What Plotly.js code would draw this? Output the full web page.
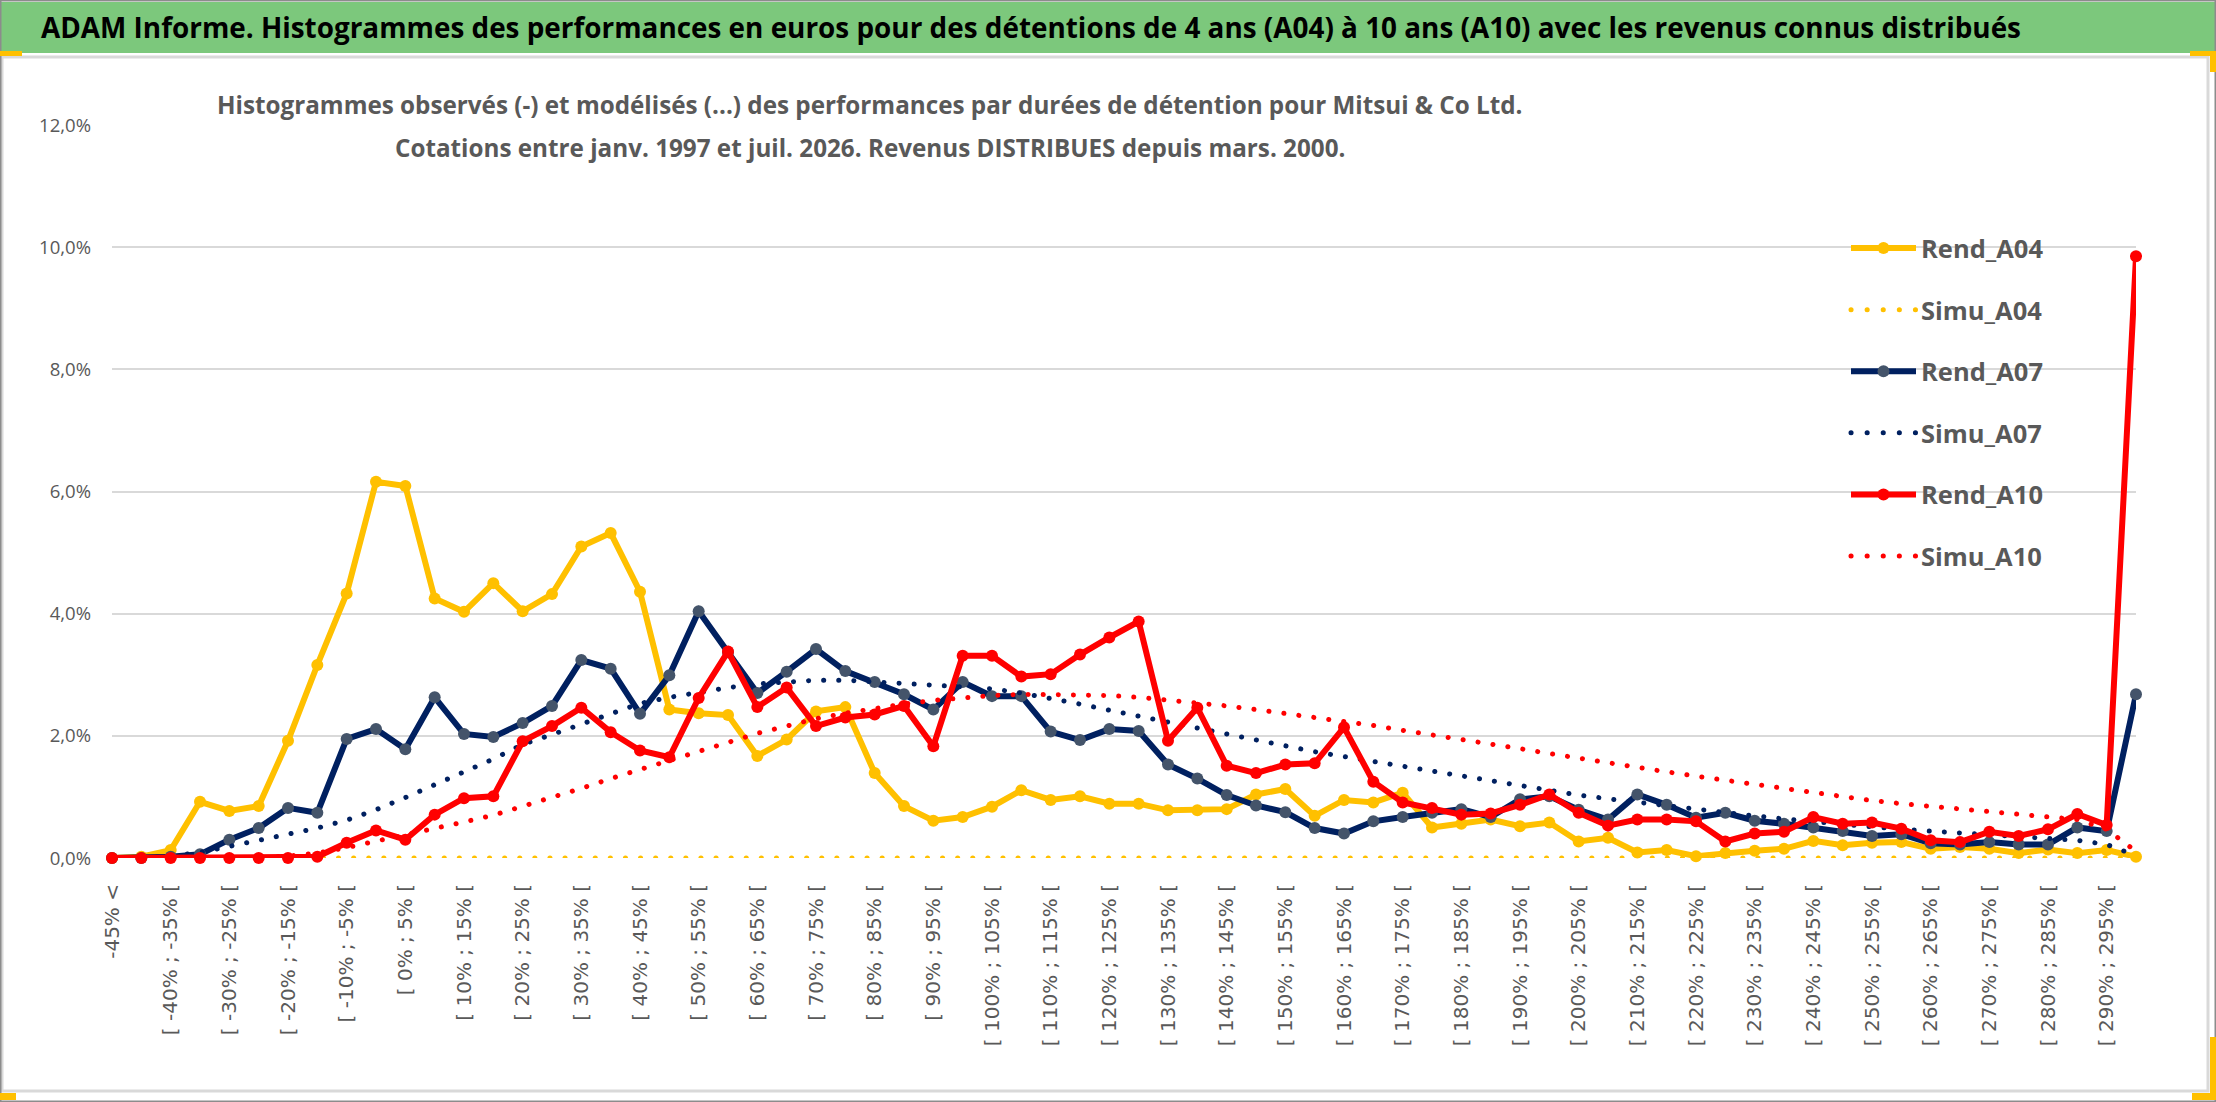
<!DOCTYPE html>
<html>
<head>
<meta charset="utf-8">
<script src="https://cdn.plot.ly/plotly-3.0.1.min.js"></script>
<style>
  html, body { margin: 0; padding: 0; background: #ffffff; }
  #chart { width: 2216px; height: 1102px; }
</style>
</head>
<body>
<div id="chart"></div>
<script>
// ---------- DATA ----------
const categories = [
  "-45% <", "[ -45% ; -40% [", "[ -40% ; -35% [", "[ -35% ; -30% [", "[ -30% ; -25% [",
  "[ -25% ; -20% [", "[ -20% ; -15% [", "[ -15% ; -10% [", "[ -10% ; -5% [", "[ -5% ; 0% [",
  "[ 0% ; 5% [", "[ 5% ; 10% [", "[ 10% ; 15% [", "[ 15% ; 20% [", "[ 20% ; 25% [",
  "[ 25% ; 30% [", "[ 30% ; 35% [", "[ 35% ; 40% [", "[ 40% ; 45% [", "[ 45% ; 50% [",
  "[ 50% ; 55% [", "[ 55% ; 60% [", "[ 60% ; 65% [", "[ 65% ; 70% [", "[ 70% ; 75% [",
  "[ 75% ; 80% [", "[ 80% ; 85% [", "[ 85% ; 90% [", "[ 90% ; 95% [", "[ 95% ; 100% [",
  "[ 100% ; 105% [", "[ 105% ; 110% [", "[ 110% ; 115% [", "[ 115% ; 120% [", "[ 120% ; 125% [",
  "[ 125% ; 130% [", "[ 130% ; 135% [", "[ 135% ; 140% [", "[ 140% ; 145% [", "[ 145% ; 150% [",
  "[ 150% ; 155% [", "[ 155% ; 160% [", "[ 160% ; 165% [", "[ 165% ; 170% [", "[ 170% ; 175% [",
  "[ 175% ; 180% [", "[ 180% ; 185% [", "[ 185% ; 190% [", "[ 190% ; 195% [", "[ 195% ; 200% [",
  "[ 200% ; 205% [", "[ 205% ; 210% [", "[ 210% ; 215% [", "[ 215% ; 220% [", "[ 220% ; 225% [",
  "[ 225% ; 230% [", "[ 230% ; 235% [", "[ 235% ; 240% [", "[ 240% ; 245% [", "[ 245% ; 250% [",
  "[ 250% ; 255% [", "[ 255% ; 260% [", "[ 260% ; 265% [", "[ 265% ; 270% [", "[ 270% ; 275% [",
  "[ 275% ; 280% [", "[ 280% ; 285% [", "[ 285% ; 290% [", "[ 290% ; 295% [", "> 295%"
];

// values in percent
const rendA04 = [
  0.00, 0.02, 0.13, 0.92, 0.77, 0.85, 1.92, 3.16, 4.33, 6.16,
  6.09, 4.25, 4.03, 4.50, 4.04, 4.32, 5.10, 5.32, 4.36, 2.43,
  2.37, 2.34, 1.67, 1.94, 2.40, 2.47, 1.39, 0.85, 0.61, 0.67,
  0.84, 1.11, 0.95, 1.01, 0.89, 0.89, 0.78, 0.78, 0.80, 1.04,
  1.13, 0.69, 0.95, 0.91, 1.07, 0.50, 0.56, 0.63, 0.52, 0.58,
  0.27, 0.33, 0.09, 0.13, 0.03, 0.08, 0.12, 0.15, 0.28, 0.21,
  0.25, 0.26, 0.15, 0.18, 0.15, 0.08, 0.14, 0.08, 0.13, 0.02
];
const simuA04 = [
  0, 0, 0, 0, 0, 0, 0, 0, 0, 0,
  0, 0, 0, 0, 0, 0, 0, 0, 0, 0,
  0, 0, 0, 0, 0, 0, 0, 0, 0, 0,
  0, 0, 0, 0, 0, 0, 0, 0, 0, 0,
  0, 0, 0, 0, 0, 0, 0, 0, 0, 0,
  0, 0, 0, 0, 0, 0, 0, 0, 0, 0,
  0, 0, 0, 0, 0, 0, 0, 0, 0, 0
];
const rendA07 = [
  0.00, 0.00, 0.02, 0.06, 0.30, 0.49, 0.82, 0.74, 1.95, 2.11,
  1.78, 2.63, 2.03, 1.98, 2.21, 2.49, 3.24, 3.10, 2.36, 2.99,
  4.04, 3.37, 2.70, 3.05, 3.42, 3.06, 2.88, 2.68, 2.43, 2.88,
  2.65, 2.65, 2.07, 1.93, 2.11, 2.08, 1.53, 1.30, 1.03, 0.86,
  0.75, 0.49, 0.40, 0.60, 0.67, 0.74, 0.80, 0.67, 0.96, 1.01,
  0.79, 0.63, 1.04, 0.87, 0.66, 0.74, 0.61, 0.56, 0.50, 0.44,
  0.36, 0.39, 0.24, 0.22, 0.26, 0.22, 0.22, 0.50, 0.44, 2.68
];
const simuA07 = [
  0.00, 0.01, 0.03, 0.09, 0.19, 0.27, 0.38, 0.49, 0.62, 0.79,
  0.99, 1.19, 1.41, 1.62, 1.86, 2.02, 2.19, 2.37, 2.53, 2.63,
  2.72, 2.79, 2.85, 2.89, 2.91, 2.91, 2.89, 2.86, 2.83, 2.80,
  2.77, 2.70, 2.62, 2.52, 2.42, 2.32, 2.22, 2.12, 2.03, 1.93,
  1.84, 1.74, 1.66, 1.58, 1.50, 1.41, 1.33, 1.25, 1.17, 1.10,
  1.03, 0.97, 0.91, 0.85, 0.79, 0.74, 0.69, 0.64, 0.59, 0.55,
  0.51, 0.47, 0.44, 0.41, 0.38, 0.35, 0.32, 0.29, 0.22, 0.04
];
const rendA10 = [
  0.00, 0.00, 0.00, 0.00, 0.00, 0.00, 0.00, 0.02, 0.25, 0.45,
  0.30, 0.71, 0.98, 1.01, 1.91, 2.16, 2.46, 2.06, 1.76, 1.65,
  2.62, 3.38, 2.47, 2.79, 2.16, 2.30, 2.35, 2.49, 1.83, 3.31,
  3.31, 2.97, 3.01, 3.33, 3.61, 3.87, 1.92, 2.46, 1.51, 1.39,
  1.53, 1.55, 2.14, 1.25, 0.91, 0.82, 0.71, 0.73, 0.87, 1.04,
  0.74, 0.53, 0.63, 0.63, 0.60, 0.27, 0.40, 0.43, 0.67, 0.56,
  0.58, 0.48, 0.29, 0.26, 0.43, 0.36, 0.47, 0.72, 0.54, 9.85
];
const simuA10 = [
  0.00, 0.00, 0.00, 0.00, 0.00, 0.01, 0.03, 0.08, 0.17, 0.27,
  0.38, 0.48, 0.59, 0.70, 0.84, 0.98, 1.14, 1.30, 1.45, 1.60,
  1.75, 1.91, 2.04, 2.16, 2.28, 2.37, 2.45, 2.52, 2.58, 2.63,
  2.66, 2.68, 2.68, 2.68, 2.66, 2.63, 2.59, 2.54, 2.49, 2.43,
  2.37, 2.30, 2.23, 2.17, 2.09, 2.02, 1.95, 1.87, 1.79, 1.71,
  1.63, 1.55, 1.48, 1.41, 1.34, 1.27, 1.21, 1.15, 1.08, 1.00,
  0.94, 0.89, 0.85, 0.80, 0.75, 0.72, 0.69, 0.63, 0.47, 0.11
];
const yTickPct = [0, 2, 4, 6, 8, 10, 12];

const titleText = "ADAM Informe. Histogrammes des performances en euros pour des détentions de 4 ans (A04) à 10 ans (A10) avec les revenus connus distribués";
const subtitleLines = [
  "Histogrammes observés (-) et modélisés (...) des performances par durées de détention pour Mitsui &amp; Co Ltd.",
  "Cotations entre janv. 1997 et juil. 2026. Revenus DISTRIBUES depuis mars. 2000."
];

// ---------- LAYOUT GEOMETRY ----------
const W = 2216, H = 1102;
const M = { l: 112, r: 80, t: 125, b: 244 };
const PW = W - M.l - M.r, PH = H - M.t - M.b;
const px = x => (x - M.l) / PW;          // pixel -> paper x
const py = y => (H - M.b - y) / PH;      // pixel (from top) -> paper y

const FAM = "'Open Sans', 'DejaVu Sans Condensed', sans-serif";
const GREY = "#595959";
const YEL = "#FFC000", NAVY = "#002060", RED = "#FF0000", NAVYMK = "#44546A";

const xIdx = categories.map((c, i) => i);
const tickIdx = xIdx.filter(i => i % 2 === 0);
const tickTxt = tickIdx.map(i => categories[i]);
const gridIdx = xIdx.filter(i => i % 4 === 0);
const pct = a => a.map(v => v / 100);

function rend(name, vals, color, mk) {
  return { type: 'scatter', mode: 'lines+markers', name, x: xIdx, y: pct(vals),
    legendgroup: name, cliponaxis: false,
    line: { color, width: 6 }, marker: { color: mk, size: 12, line: { width: 0 } } };
}
function simu(name, vals, color) {
  return { type: 'scatter', mode: 'lines', name, x: xIdx, y: pct(vals),
    legendgroup: name, cliponaxis: false,
    line: { color, width: 5, dash: 'dot' } };
}

const traces = [
  rend('Rend_A04', rendA04, YEL, YEL),
  simu('Simu_A04', simuA04, YEL),
  rend('Rend_A07', rendA07, NAVY, NAVYMK),
  simu('Simu_A07', simuA07, NAVY),
  rend('Rend_A10', rendA10, RED, RED),
  simu('Simu_A10', simuA10, RED)
];

function rectPx(x0, y0, x1, y1, opts) {
  return Object.assign({ type: 'rect', xref: 'paper', yref: 'paper',
    x0: px(x0), x1: px(x1), y0: py(y1), y1: py(y0) }, opts);
}

const shapes = [
  rectPx(0, 2, W, 53, { fillcolor: '#7CC87C', line: { width: 0 }, layer: 'below' }),
  rectPx(2, 57, 2208, 1091, { fillcolor: 'rgba(0,0,0,0)', line: { color: '#D9D9D9', width: 3 }, layer: 'below' }),
  // white boxes behind the subtitle and the legend (hide the gridlines, as in the reference)
  rectPx(212, 100, 1525, 170, { fillcolor: '#FFFFFF', line: { width: 0 }, layer: 'between' }),
  rectPx(1779, 218, 2111, 587, { fillcolor: '#FFFFFF', line: { width: 0 }, layer: 'between' }),
  rectPx(0.5, 0.5, W - 0.5, H - 0.5, { fillcolor: 'rgba(0,0,0,0)', line: { color: '#8C8C8C', width: 2 }, layer: 'above' }),
  rectPx(0, 51, 22, 56, { fillcolor: YEL, line: { width: 0 }, layer: 'above' }),
  rectPx(2190, 51, W, 56, { fillcolor: YEL, line: { width: 0 }, layer: 'above' }),
  rectPx(2210, 51, W, 72, { fillcolor: YEL, line: { width: 0 }, layer: 'above' }),
  rectPx(0, 1093, 16, 1100, { fillcolor: YEL, line: { width: 0 }, layer: 'above' }),
  rectPx(2192, 1093, W, 1100, { fillcolor: YEL, line: { width: 0 }, layer: 'above' }),
  rectPx(2210, 1037, W, 1100, { fillcolor: YEL, line: { width: 0 }, layer: 'above' })
];

const subFont = { family: FAM, size: 26, color: GREY, weight: 700, stretch: 'condensed' };
const annotations = [
  { xref: 'paper', yref: 'paper', x: px(39), y: py(27), xanchor: 'left', yanchor: 'middle',
    showarrow: false, text: titleText,
    font: { family: FAM, size: 31, color: '#000000', weight: 700, stretch: 'condensed' } },
  { xref: 'paper', yref: 'paper', x: px(870), y: py(105), xanchor: 'center', yanchor: 'middle',
    showarrow: false, text: subtitleLines[0], font: Object.assign({}, subFont) },
  { xref: 'paper', yref: 'paper', x: px(870), y: py(147), xanchor: 'center', yanchor: 'middle',
    showarrow: false, text: subtitleLines[1], font: Object.assign({}, subFont) }
];

const legendGap = fs => Math.max(0, 61.6 - 1.3 * fs - 3);

const layout = {
  width: W, height: H,
  margin: { l: M.l, r: M.r, t: M.t, b: M.b, pad: 0 },
  paper_bgcolor: '#FFFFFF', plot_bgcolor: '#FFFFFF',
  separators: ', ',
  showlegend: true,
  legend: {
    x: px(1846), y: py(225), xanchor: 'left', yanchor: 'top',
    bgcolor: 'rgba(255,255,255,0)', borderwidth: 0,
    font: { family: FAM, size: 29, color: GREY, weight: 700, stretch: 'condensed' },
    traceorder: 'grouped', tracegroupgap: legendGap(29), itemwidth: 65
  },
  xaxis: {
    type: 'linear', range: [0, 69], autorange: false,
    tickmode: 'array', tickvals: tickIdx, ticktext: tickTxt,
    tickangle: -90, ticks: '', ticklabelstandoff: 21,
    tickfont: { family: "'DejaVu Sans', Verdana, sans-serif", size: 20, color: GREY },
    showgrid: false, zeroline: false, showline: false, automargin: false, fixedrange: true
  },
  xaxis2: {
    type: 'linear', range: [0, 69], autorange: false, overlaying: 'x', anchor: 'y',
    tickmode: 'array', tickvals: gridIdx, showticklabels: false, ticks: '',
    showgrid: true, gridcolor: '#D9D9D9', gridwidth: 2,
    zeroline: false, showline: false, automargin: false, fixedrange: true
  },
  yaxis: {
    range: [0, 0.12], autorange: false,
    tickmode: 'array', tickvals: pct(yTickPct),
    tickformat: '.1%', ticks: '', ticklabelstandoff: 20,
    tickfont: { family: FAM, size: 22, color: GREY, stretch: 'condensed' },
    showgrid: true, gridcolor: '#D9D9D9', gridwidth: 2,
    zeroline: false, showline: false, automargin: false, fixedrange: true
  },
  shapes, annotations
};

function styleDots(gd) {
  const dotted = new Set(['Simu_A04', 'Simu_A07', 'Simu_A10']);
  gd.querySelectorAll('.scatterlayer .trace').forEach(g => {
    const cd = g.__data__;
    const tr = cd && cd[0] && cd[0].trace;
    if (tr && dotted.has(tr.name)) {
      g.querySelectorAll('path.js-line').forEach(p => {
        p.style.strokeLinecap = 'round';
        p.style.strokeDasharray = '0.1px,15px';
      });
    }
  });
  gd.querySelectorAll('.legend .traces').forEach(g => {
    const cd = g.__data__;
    const tr = cd && cd[0] && cd[0].trace;
    if (tr && dotted.has(tr.name)) {
      g.querySelectorAll('.legendlines path').forEach(p => {
        p.style.strokeLinecap = 'round';
        p.style.strokeDasharray = '0.1px,16px';
      });
    }
  });
}

// target text widths measured on the reference (pixels)
const TARGET = { title: 1981, sub1: 1306, legend: 122, ytick: 52 };

Plotly.newPlot('chart', traces, layout, { displayModeBar: false, staticPlot: true }).then(gd => {
  const upd = {};
  try {
    const annTexts = gd.querySelectorAll('.annotation-text-g text');
    if (annTexts[0]) {
      const w = annTexts[0].getBBox().width;
      if (w > 0) upd['annotations[0].font.size'] = +(31 * TARGET.title / w).toFixed(2);
    }
    if (annTexts[1]) {
      const w = annTexts[1].getBBox().width;
      if (w > 0) {
        const fs = +(subFont.size * TARGET.sub1 / w).toFixed(2);
        upd['annotations[1].font.size'] = fs;
        upd['annotations[2].font.size'] = fs;
      }
    }
    const lt = gd.querySelector('.legend .legendtext');
    if (lt) {
      const w = lt.getComputedTextLength();
      if (w > 0) {
        const fs = +(29 * TARGET.legend / w).toFixed(2);
        upd['legend.font.size'] = fs;
        upd['legend.tracegroupgap'] = legendGap(fs);
      }
    }
    const yt = gd.querySelectorAll('.ytick text');
    if (yt.length) {
      const w = yt[yt.length - 1].getComputedTextLength();
      if (w > 0) upd['yaxis.tickfont.size'] = +(22 * TARGET.ytick / w).toFixed(2);
    }
  } catch (e) { /* keep initial sizes */ }
  return Plotly.relayout(gd, upd).then(() => styleDots(gd));
});
</script>
</body>
</html>
